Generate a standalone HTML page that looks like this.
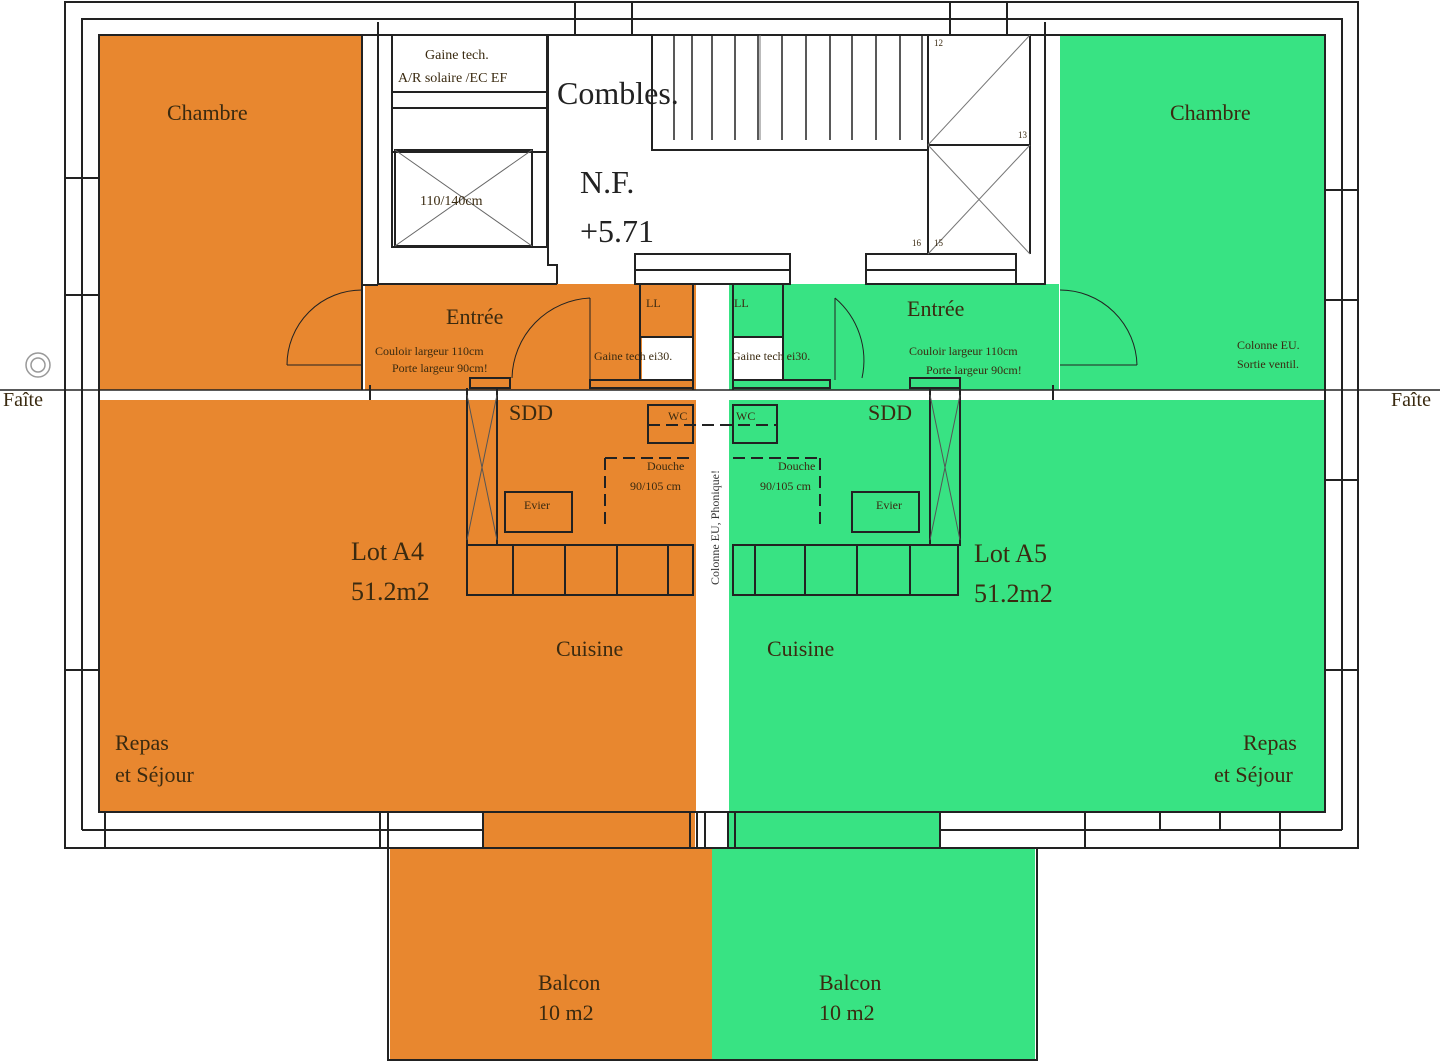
<!DOCTYPE html>
<html><head><meta charset="utf-8"><style>
html,body{margin:0;padding:0;background:#fff;}
svg{display:block;}
text{font-family:"Liberation Serif",serif;fill:#3a2a10;}
</style></head><body>
<svg width="1440" height="1062" viewBox="0 0 1440 1062" xmlns="http://www.w3.org/2000/svg">
<rect width="1440" height="1062" fill="#fff"/>
<g fill="#e8872f">
<rect x="99" y="35" width="263" height="355"/>
<rect x="365" y="284" width="331" height="106"/>
<rect x="99" y="400" width="597" height="412"/>
<rect x="483" y="812" width="212" height="36"/>
<rect x="390" y="848" width="322" height="212"/>
</g>
<g fill="#38e383">
<rect x="1060" y="35" width="265" height="355"/>
<rect x="729" y="284" width="330" height="106"/>
<rect x="729" y="400" width="596" height="412"/>
<rect x="729" y="812" width="211" height="36"/>
<rect x="712" y="848" width="323" height="212"/>
</g>
<g fill="#fff">
<rect x="99" y="390" width="272" height="10"/>
<rect x="1053" y="390" width="272" height="10"/>
<rect x="697" y="284" width="31" height="564"/>
<rect x="642" y="337" width="51" height="42"/>
<rect x="733" y="337" width="50" height="42"/>
</g>
<g fill="none" stroke="#222" stroke-width="2">
<path d="M65 848 V2 H1358 V848 Z"/>
<path d="M82 830 V19 H1342 V830"/>
<rect x="99" y="35" width="1226" height="777"/>
<path d="M575 2 V35 M632 2 V35 M950 2 V35 M1007 2 V35"/>
<path d="M82 830 H483 M940 830 H1342 M105 812 V848 M380 812 V848 M388 812 V848 M483 812 V848 M690 812 V848 M697 812 V848 M705 812 V848 M728 812 V848 M735 812 V848 M940 812 V848 M1085 812 V848 M1160 812 V830 M1220 812 V830 M1280 812 V848"/>
<path d="M65 178 H99 M65 295 H99 M65 670 H99 M1325 190 H1358 M1325 300 H1358 M1325 480 H1358 M1325 670 H1358"/>
<path d="M388 848 V1060 H1037 V848"/>
<path d="M362 35 V390 M378 22 V284 H557 M1045 22 V284 H866"/>
<rect x="392" y="35" width="155" height="212"/>
<path d="M392 92 H547 M392 108 H547 M392 152 H547"/>
<rect x="395" y="150" width="137" height="96"/>
<path d="M395 150 L532 246 M532 150 L395 246" stroke-width="1" stroke="#666"/>
<path d="M548 35 V265 H557 V284"/>
<rect x="635" y="254" width="155" height="30"/>
<path d="M635 270 H790"/>
<rect x="866" y="254" width="150" height="30"/>
<path d="M866 270 H1016"/>
<path d="M652 35 V150 H928 M928 35 V254 M1030 35 V254 M928 145 H1030 M652 35 H1030"/>
<path d="M674 35 V140 M692 35 V140 M712 35 V140 M735 35 V140 M758 35 V140 M782 35 V140 M806 35 V140 M830 35 V140 M852 35 V140 M876 35 V140 M900 35 V140 M922 35 V140" stroke-width="1.5"/>
<path d="M928 145 L1030 35 M928 145 L1030 254 M1030 145 L928 254 M760 35 L760 140" stroke="#777" stroke-width="1"/>
<path d="M362 285 H378 M370 385 V400 M1053 385 V400"/>
<path d="M640 284 V380 M693 284 V390 M733 284 V390 M783 284 V380 M640 337 H693 M733 337 H783"/>
<path d="M590 380 H693 V388 H590 Z M733 380 H830 V388 H733 Z M910 378 H960 V388 H910 Z M470 378 H510 V388 H470 Z"/>
<path d="M287 365 H362 M287 365 A75 75 0 0 1 362 290" stroke-width="1"/>
<path d="M1137 365 H1060 M1137 365 A77 77 0 0 0 1060 290" stroke-width="1"/>
<path d="M590 380 V298 M590 298 A82 82 0 0 0 512 378" stroke-width="1"/>
<path d="M835 380 V298 M835 298 A82 82 0 0 1 862 378" stroke-width="1"/>
<path d="M467 388 V545 H693 M497 388 V545 M960 388 V545 H733 M930 388 V545"/>
<path d="M467 395 L497 540 M497 395 L467 540 M930 395 L960 540 M960 395 L930 540" stroke="#555" stroke-width="1"/>
<rect x="505" y="492" width="67" height="40"/>
<rect x="852" y="492" width="67" height="40"/>
<rect x="648" y="405" width="45" height="38"/>
<rect x="733" y="405" width="44" height="38"/>
<path d="M605 458 H693 M605 458 V530 M733 458 H820 M820 458 V530 M648 425 H777" stroke-dasharray="12 6"/>
<rect x="467" y="545" width="226" height="50"/>
<rect x="733" y="545" width="225" height="50"/>
<path d="M513 545 V595 M565 545 V595 M617 545 V595 M668 545 V595 M755 545 V595 M805 545 V595 M857 545 V595 M910 545 V595"/>
</g>
<path d="M0 390 H1440" stroke="#222" stroke-width="1.5"/>
<circle cx="38" cy="365" r="12" fill="none" stroke="#999" stroke-width="1.5"/>
<circle cx="38" cy="365" r="7" fill="none" stroke="#999" stroke-width="1.5"/>
<g font-size="22">
<text x="167" y="120">Chambre</text>
<text x="1170" y="120">Chambre</text>
<text x="446" y="324">Entrée</text>
<text x="907" y="316">Entrée</text>
<text x="556" y="656">Cuisine</text>
<text x="767" y="656">Cuisine</text>
<text x="115" y="750">Repas</text>
<text x="115" y="782">et Séjour</text>
<text x="1243" y="750">Repas</text>
<text x="1214" y="782">et Séjour</text>
<text x="538" y="990">Balcon</text>
<text x="538" y="1020">10 m2</text>
<text x="819" y="990">Balcon</text>
<text x="819" y="1020">10 m2</text>
<text x="3" y="406" font-size="20">Faîte</text>
<text x="1391" y="406" font-size="20">Faîte</text>
<text x="509" y="420">SDD</text>
<text x="868" y="420">SDD</text>
</g>
<g font-size="26">
<text x="351" y="560">Lot A4</text>
<text x="351" y="600">51.2m2</text>
<text x="974" y="562">Lot A5</text>
<text x="974" y="602">51.2m2</text>
</g>
<text x="557" y="104" font-size="32" style="fill:#222">Combles.</text>
<text x="580" y="193" font-size="32" style="fill:#222">N.F.</text>
<text x="580" y="242" font-size="32" style="fill:#222">+5.71</text>
<g font-size="14" style="fill:#222">
<text x="425" y="59">Gaine tech.</text>
<text x="398" y="82">A/R solaire /EC EF</text>
<text x="420" y="205">110/140cm</text>
</g>
<g font-size="12">
<text x="375" y="355">Couloir largeur 110cm</text>
<text x="392" y="372">Porte largeur 90cm!</text>
<text x="909" y="355">Couloir largeur 110cm</text>
<text x="926" y="374">Porte largeur 90cm!</text>
<text x="594" y="360">Gaine tech ei30.</text>
<text x="732" y="360">Gaine tech ei30.</text>
<text x="646" y="307">LL</text>
<text x="734" y="307">LL</text>
<text x="668" y="420">WC</text>
<text x="736" y="420">WC</text>
<text x="647" y="470">Douche</text>
<text x="630" y="490">90/105 cm</text>
<text x="778" y="470">Douche</text>
<text x="760" y="490">90/105 cm</text>
<text x="524" y="509">Evier</text>
<text x="876" y="509">Evier</text>
<text x="1237" y="349">Colonne EU.</text>
<text x="1237" y="368">Sortie ventil.</text>
</g>
<text transform="translate(719 585) rotate(-90)" font-size="12" style="fill:#333">Colonne EU, Phonique!</text>
<g font-size="9" style="fill:#333"><text x="934" y="46">12</text><text x="1018" y="138">13</text><text x="912" y="246">16</text><text x="934" y="246">15</text></g>
</svg>
</body></html>
